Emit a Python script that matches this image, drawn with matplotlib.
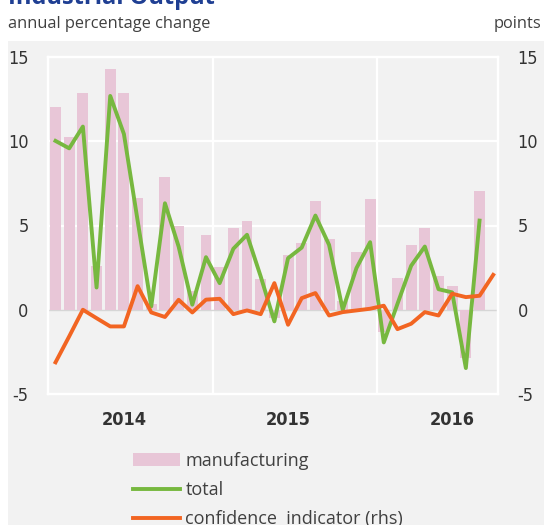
"""Industrial output: manufacturing, total and confidence indicator."""
import matplotlib
matplotlib.use("Agg")
import matplotlib.pyplot as plt
from matplotlib.patches import Rectangle
import numpy as np

# monthly, Jan 2014 onwards
manufacturing = [12.05, 10.27, 12.84, 2.57, 14.29, 12.84, 6.66, 0.36, 7.88, 5.0, 1.14, 4.45,
                 2.53, 4.84, 5.26, 1.82, -0.5, 3.22, 3.95, 6.46, 4.21, 0.5, 3.44, 6.6,
                 -1.34, 1.88, 3.85, 4.84, 2.01, 1.38, -2.87, 7.05]
total = [10.02, 9.58, 10.87, 1.32, 12.69, 10.43, 5.3, 0.2, 6.32, 3.75, 0.3, 3.12,
         1.58, 3.62, 4.45, 1.98, -0.69, 3.06, 3.69, 5.59, 3.85, 0.0, 2.47, 4.01,
         -1.94, 0.35, 2.61, 3.75, 1.22, 1.03, -3.46, 5.29]
confidence = [-3.12, -1.58, 0.0, -0.5, -0.99, -0.99, 1.4, -0.16, -0.43, 0.59, -0.16, 0.6,
              0.65, -0.26, -0.04, -0.26, 1.58, -0.89, 0.69, 0.99, -0.34, -0.14, -0.04, 0.06,
              0.24, -1.15, -0.83, -0.14, -0.34, 0.95, 0.75, 0.83, 2.07]
years = ["2014", "2015", "2016"]
yticks = [-5, 0, 5, 10, 15]

PINK = "#e8c6d7"
GREEN = "#77b83f"
ORANGE = "#f26522"
BG = "#f2f2f2"
TXT = "#333333"
plt.rcParams["font.family"] = ["Open Sans", "DejaVu Sans"]
TICKFONT = dict(family=["DejaVu Sans"], fontstretch="condensed", fontsize=13, color=TXT)

W, H = 544, 525
fig = plt.figure(figsize=(W / 100, H / 100), dpi=100)
fig.patches.append(Rectangle((8 / W, 0), 1, (H - 41) / H, transform=fig.transFigure,
                             facecolor=BG, edgecolor="none", zorder=0))

ax = fig.add_axes([48 / W, (H - 394) / H, 450 / W, 337 / H])
ax.set_facecolor(BG)

x_m = np.arange(len(manufacturing))
x_c = np.arange(len(confidence))
bars = ax.bar(x_m, manufacturing, width=0.8, color=PINK, zorder=2)
line_total, = ax.plot(x_m, total, color=GREEN, lw=2.8, zorder=4)

ax2 = ax.twinx()
line_conf, = ax2.plot(x_c, confidence, color=ORANGE, lw=2.8, zorder=5)

for a in (ax, ax2):
    a.set_ylim(-5, 15)
    a.set_yticks(yticks)
    a.set_yticklabels([str(t) for t in yticks], **TICKFONT)
    a.tick_params(axis="y", length=0, pad=14)
    for s in a.spines.values():
        s.set_color("white")
        s.set_linewidth(1.6)
ax.set_zorder(2)
ax2.set_zorder(3)
ax2.patch.set_visible(False)

ax.set_xlim(-0.55, 32.35)
ax.set_xticks([5, 17, 29])
ax.set_xticklabels(years, fontweight="semibold", **TICKFONT)
ax.tick_params(axis="x", length=0, pad=12)

# grid
for yv in [5, 10]:
    ax.axhline(yv, color="white", lw=1.6, zorder=1)
for xv in [11.5, 23.5]:
    ax.axvline(xv, color="white", lw=1.6, zorder=1)
ax.axhline(0, color="#d6d6d6", lw=1.0, zorder=1)

fig.text(8 / W, 1 - 4 / H, "Industrial Output", ha="left", va="baseline",
         fontsize=17, fontweight="bold", color="#1f3f93")
fig.text(8 / W, 1 - 28 / H, "annual percentage change", ha="left", va="baseline",
         fontsize=11.8, color="#404040")
fig.text(541 / W, 1 - 28 / H, "points", ha="right", va="baseline",
         fontsize=11.8, color="#404040")

handles = [bars, line_total, line_conf]
labels = ["manufacturing", "total", "confidence  indicator (rhs)"]
fig.legend(handles, labels, loc="upper left", bbox_to_anchor=(124 / W, 1 - 443 / H),
           frameon=False, fontsize=13, handlelength=2.6, handletextpad=0.3,
           labelspacing=0.62, borderpad=0, labelcolor="#404040")

fig.savefig("out.png", dpi=100)
